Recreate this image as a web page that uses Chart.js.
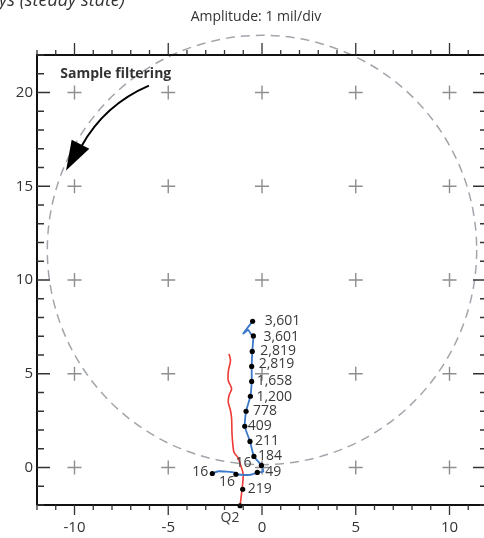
<!DOCTYPE html>
<html>
<head>
<meta charset="utf-8">
<script src="https://cdn.jsdelivr.net/npm/chart.js@4.4.1/dist/chart.umd.min.js"></script>
<style>
  html, body { margin: 0; padding: 0; background: #fff; overflow: hidden; width: 484px; height: 538px; }
  #wrap { width: 496px; height: 538px; position: relative; }
  #orbit { width: 496px; height: 538px; display: block; }
</style>
</head>
<body>
<div id="wrap"><canvas id="orbit" width="496" height="538"></canvas></div>
<script>
// axis ticks (mil)
const xTicks = [-10, -5, 0, 5, 10];
const yTicks = [0, 5, 10, 15, 20];
const xRange = [-12, 12];
const yRange = [-2, 22];

// speed markers along the filtered orbit (rpm)
const rpmLabels = ['3,601', '3,601', '2,819', '2,819', '1,658', '1,200', '778', '409', '211', '184', '16', '49', '16', '16', '219'];
const dotX = [-0.50, -0.46, -0.52, -0.55, -0.55, -0.62, -0.85, -0.92, -0.64, -0.43, -0.03, -0.25, -1.39, -2.65, -1.03];
const dotY = [7.80, 7.02, 6.19, 5.39, 4.59, 3.80, 3.00, 2.20, 1.39, 0.59, 0.11, -0.26, -0.36, -0.32, -1.16];

// filtered shaft centerline (blue)
const blueX = [-0.50, -1.00, -0.73, -0.60, -0.46, -0.52, -0.55, -0.55, -0.62, -0.85, -0.92, -0.64, -0.43, -0.03, 0.07, -0.25, -0.64, -1.39, -1.44, -2.33, -2.65];
const blueY = [7.80, 7.14, 7.34, 7.13, 7.02, 6.19, 5.39, 4.59, 3.80, 3.00, 2.20, 1.39, 0.59, 0.11, -0.21, -0.26, -0.39, -0.36, -0.27, -0.20, -0.32];

// unfiltered centerline (red)
const redX = [-1.76, -1.68, -1.79, -1.80, -1.62, -1.76, -1.80, -1.68, -1.62, -1.60, -1.55, -1.49, -1.28, -1.17, -1.01, -1.03, -1.09, -1.17];
const redY = [6.06, 5.71, 5.17, 4.64, 4.20, 3.84, 3.48, 3.04, 2.60, 1.81, 1.17, 0.80, 0.53, 0.21, -0.32, -0.85, -1.39, -2.03];

// probe reference
const probeX = [-1.17];
const probeY = [-2.04];
const probeLabels = ['Q2'];

// clearance circle
const circleCenter = [0, 11.6];
const circleRadius = 11.45;

// label placement next to each speed dot [dx, dy, align]
const labelPlace = [
  [12, 0, 'left'], [10, 1, 'left'], [8, 0, 'left'], [7, -2, 'left'], [5, 0, 'left'],
  [6, 1, 'left'], [7, 0, 'left'], [3, 0, 'left'], [5, 0, 'left'], [4, 0, 'left'],
  [-10, -2, 'right'], [8, 0, 'left'], [-1, 8, 'right'], [-4, -1, 'right'], [5, 0, 'left']
];

const FONT = "'Open Sans', 'Noto Sans', sans-serif";

const toPts = (xs, ys) => xs.map((v, i) => ({ x: v, y: ys[i] }));
const crossPts = [];
xTicks.forEach(a => yTicks.forEach(b => crossPts.push({ x: a, y: b })));

const orbitDecor = {
  id: 'orbitDecor',
  beforeDatasetsDraw(chart) {
    const { ctx, scales: { x, y } } = chart;
    ctx.save();
    ctx.strokeStyle = '#a2a6ab';
    ctx.lineWidth = 1.5;
    ctx.setLineDash([9, 6]);
    const cx = x.getPixelForValue(circleCenter[0]);
    const cy = y.getPixelForValue(circleCenter[1]);
    const r = x.getPixelForValue(circleRadius) - x.getPixelForValue(0);
    ctx.beginPath();
    ctx.arc(cx, cy, r, 0, Math.PI * 2);
    ctx.stroke();
    ctx.restore();
  },
  afterDatasetsDraw(chart) {
    const { ctx, chartArea: a, scales: { x, y } } = chart;
    ctx.save();

    // spines
    ctx.strokeStyle = '#111';
    ctx.lineWidth = 2;
    ctx.beginPath();
    ctx.moveTo(a.left, a.bottom); ctx.lineTo(a.left, a.top); ctx.lineTo(a.right, a.top);
    ctx.lineTo(a.right, a.bottom); ctx.lineTo(a.left, a.bottom);
    ctx.stroke();

    // ticks
    ctx.strokeStyle = '#333';
    ctx.lineWidth = 1.3;
    ctx.beginPath();
    for (let v = xRange[0]; v <= xRange[1]; v++) {
      const px = x.getPixelForValue(v);
      const major = v % 5 === 0;
      ctx.moveTo(px, a.bottom); ctx.lineTo(px, a.bottom + (major ? 10 : 5));
      ctx.moveTo(px, a.top); ctx.lineTo(px, a.top - (major ? 12 : 5));
    }
    for (let v = yRange[0]; v <= yRange[1]; v++) {
      const py = y.getPixelForValue(v);
      const major = v % 5 === 0;
      ctx.moveTo(a.left, py); ctx.lineTo(a.left + (major ? 13 : 7), py);
      ctx.moveTo(a.right, py); ctx.lineTo(a.right - (major ? 14 : 7), py);
    }
    ctx.stroke();

    // tick labels
    ctx.fillStyle = '#333';
    ctx.font = '15px ' + FONT;
    ctx.textAlign = 'center';
    ctx.textBaseline = 'middle';
    xTicks.forEach(v => ctx.fillText(String(v), x.getPixelForValue(v), a.bottom + 23));
    ctx.textAlign = 'right';
    yTicks.forEach(v => ctx.fillText(String(v), a.left - 4, y.getPixelForValue(v)));

    // speed labels
    ctx.font = '14px ' + FONT;
    ctx.fillStyle = '#3a3a3a';
    rpmLabels.forEach((t, i) => {
      const [dx, dy, al] = labelPlace[i];
      ctx.textAlign = al;
      ctx.fillText(t, x.getPixelForValue(dotX[i]) + dx, y.getPixelForValue(dotY[i]) + dy);
    });
    ctx.textAlign = 'center';
    probeLabels.forEach((t, i) => {
      ctx.fillText(t, x.getPixelForValue(probeX[i]) - 10, y.getPixelForValue(probeY[i]) + 12);
    });

    // title and cut-off heading
    ctx.font = '14px ' + FONT;
    ctx.fillStyle = '#333';
    ctx.fillText('Amplitude: 1 mil/div', 256, 17);
    ctx.font = 'italic 18px ' + FONT;
    ctx.textAlign = 'left';
    ctx.textBaseline = 'alphabetic';
    ctx.fillText('ys (steady state)', -1, 6);

    // annotation
    ctx.font = 'bold 14px ' + FONT;
    ctx.fillStyle = '#333';
    ctx.textAlign = 'center';
    ctx.textBaseline = 'middle';
    ctx.fillText('Sample filtering', x.getPixelForValue(-7.8), y.getPixelForValue(20.96));

    const P = (vx, vy) => [x.getPixelForValue(vx), y.getPixelForValue(vy)];
    const s = P(-6.03, 20.37), c = P(-8.4, 19.35), e = P(-9.62, 17.15);
    ctx.strokeStyle = '#000';
    ctx.lineWidth = 2;
    ctx.beginPath();
    ctx.moveTo(s[0], s[1]);
    ctx.quadraticCurveTo(c[0], c[1], e[0], e[1]);
    ctx.stroke();
    const tip = P(-10.45, 15.84), b1 = P(-10.15, 17.48), b2 = P(-9.21, 17.0);
    ctx.fillStyle = '#000';
    ctx.beginPath();
    ctx.moveTo(tip[0], tip[1]); ctx.lineTo(b1[0], b1[1]); ctx.lineTo(b2[0], b2[1]);
    ctx.closePath();
    ctx.fill();

    ctx.restore();
  }
};

new Chart(document.getElementById('orbit'), {
  type: 'scatter',
  data: {
    datasets: [
      {
        label: 'speeds',
        data: toPts(dotX, dotY),
        pointRadius: 2.6,
        pointBackgroundColor: '#000',
        pointBorderWidth: 0,
        showLine: false,
        order: 0,
        clip: false
      },
      {
        label: 'probe',
        data: toPts(probeX, probeY),
        pointRadius: 2.6,
        pointBackgroundColor: '#000',
        pointBorderWidth: 0,
        showLine: false,
        order: 1,
        clip: false
      },
      {
        label: 'filtered',
        data: toPts(blueX, blueY),
        showLine: true,
        borderColor: '#3b78c8',
        borderWidth: 1.8,
        pointRadius: 0,
        tension: 0.15,
        order: 2,
        clip: false
      },
      {
        label: 'unfiltered',
        data: toPts(redX, redY),
        showLine: true,
        borderColor: '#ee3a35',
        borderWidth: 1.6,
        pointRadius: 0,
        tension: 0.3,
        order: 3,
        clip: false
      },
      {
        label: 'grid',
        data: crossPts,
        pointStyle: 'cross',
        pointRadius: 7,
        borderColor: '#8e8e8e',
        borderWidth: 1.4,
        showLine: false,
        order: 4,
        clip: false
      }
    ]
  },
  options: {
    responsive: false,
    animation: false,
    events: [],
    layout: { padding: { left: 37, top: 55, right: 9, bottom: 33 } },
    plugins: { legend: { display: false }, tooltip: { enabled: false } },
    scales: {
      x: { type: 'linear', min: xRange[0], max: xRange[1], display: false },
      y: { type: 'linear', min: yRange[0], max: yRange[1], display: false }
    }
  },
  plugins: [orbitDecor]
});
</script>
</body>
</html>
